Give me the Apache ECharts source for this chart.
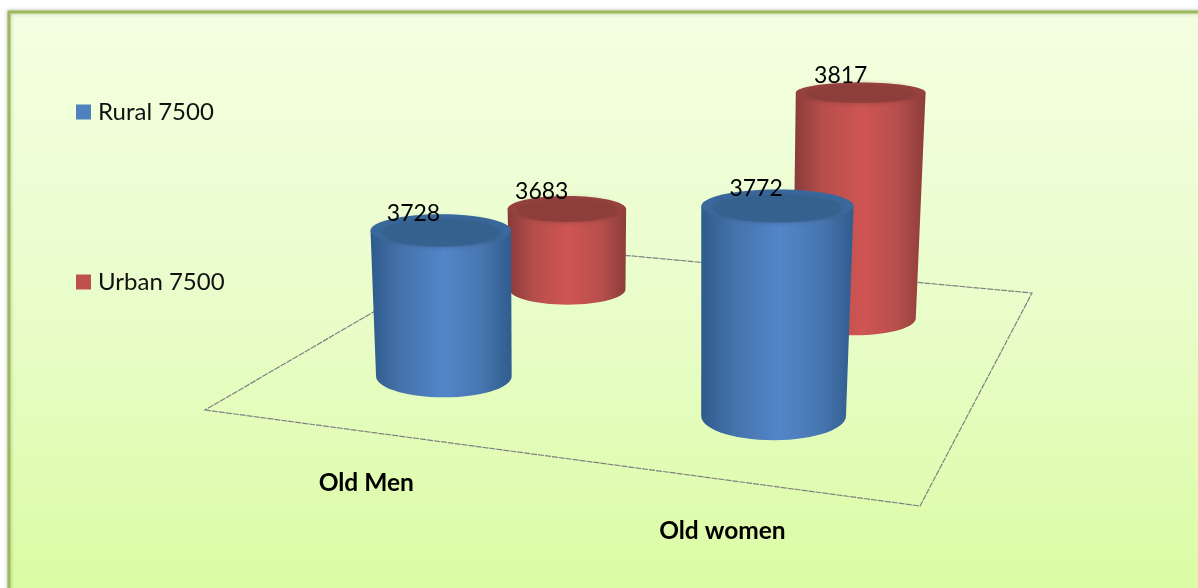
<!DOCTYPE html>
<html>
<head>
<meta charset="utf-8">
<title>Old men and women, rural and urban</title>
<script src="https://cdn.jsdelivr.net/npm/echarts@6/dist/echarts.min.js"></script>
<style>
  html, body { margin: 0; padding: 0; background: #fff; }
  #main { width: 1198px; height: 588px; }
</style>
</head>
<body>
<div id="main"></div>
<script>
const categories = ['Old Men', 'Old women'];
const seriesNames = ['Rural 7500', 'Urban 7500'];
const rural = [3728, 3772];
const urban = [3683, 3817];

const axisMin = 3602;

// floor of the 3d box on screen: front left, front right, back right, back left
const floor = [[205, 410], [920, 506], [1032, 293], [492, 243]];

// unit square -> screen, solved from the four floor corners
function makeProjection(c) {
  const sx = c[0][0] - c[1][0] + c[2][0] - c[3][0];
  const sy = c[0][1] - c[1][1] + c[2][1] - c[3][1];
  const dx1 = c[1][0] - c[2][0], dx2 = c[3][0] - c[2][0];
  const dy1 = c[1][1] - c[2][1], dy2 = c[3][1] - c[2][1];
  const den = dx1 * dy2 - dx2 * dy1;
  const g = (sx * dy2 - dx2 * sy) / den;
  const h = (dx1 * sy - sx * dy1) / den;
  return function (u, v) {
    const w = 1 + g * u + h * v;
    return {
      x: ((c[1][0] - c[0][0] + g * c[1][0]) * u + (c[3][0] - c[0][0] + h * c[3][0]) * v + c[0][0]) / w,
      y: ((c[1][1] - c[0][1] + g * c[1][1]) * u + (c[3][1] - c[0][1] + h * c[3][1]) * v + c[0][1]) / w,
      w: w
    };
  };
}
const project = makeProjection(floor);

// ellipses open up the further below the horizon they sit
function flatten(y) {
  return 0.105 + 0.00055 * y;
}

const shades = {
  'Rural 7500': {
    side: ['#2f5a8c', '#4573ab', '#5285ca', '#4877b0', '#305c8e'],
    top: ['#35618f', '#39689c']
  },
  'Urban 7500': {
    side: ['#873b39', '#b64e4b', '#cf5553', '#b84f4c', '#8c3d3b'],
    top: ['#8e3e3a', '#96413d']
  }
};

function sideFill(colors) {
  return {
    type: 'linear', x: 0, y: 0, x2: 1, y2: 0,
    colorStops: colors.map(function (c, i) {
      return { offset: [0, 0.22, 0.52, 0.78, 1][i], color: c };
    })
  };
}

function renderCylinder(params, api) {
  const name = seriesNames[params.seriesIndex];
  const idx = api.value(0);
  const val = api.value(1);
  const cs = params.coordSys;
  const p0 = api.coord([idx, axisMin]);
  const p1 = api.coord([idx, val]);

  const u = (p0[0] - cs.x) / cs.width;
  const v = (params.seriesIndex + 0.5) / seriesNames.length;
  const base = project(u, v);

  const h = (p0[1] - p1[1]) / base.w;
  const rx = 71.5 / base.w;
  const topY = base.y - h;
  const topX = base.x + (base.x - 620) * 0.00012 * h;
  const topRx = rx * (1 + 0.00025 * h);
  const ry = rx * flatten(base.y);
  const topRy = topRx * flatten(topY);

  const pts = [[topX - topRx, topY]];
  for (let a = 180; a >= 0; a -= 6) {
    const t = a * Math.PI / 180;
    pts.push([base.x + rx * Math.cos(t), base.y + ry * Math.sin(t)]);
  }
  pts.push([topX + topRx, topY]);

  const s = shades[name];
  return {
    type: 'group',
    children: [
      { type: 'polygon', shape: { points: pts }, style: { fill: sideFill(s.side) } },
      {
        type: 'ellipse',
        shape: { cx: topX, cy: topY, rx: topRx, ry: topRy },
        style: { fill: s.top[1] }
      },
      {
        type: 'ellipse',
        shape: { cx: topX, cy: topY + topRy * 0.12, rx: topRx * 0.84, ry: topRy * 0.82 },
        style: { fill: s.top[0], shadowBlur: 6, shadowColor: s.top[0] }
      },
      {
        type: 'text',
        z2: 10,
        style: {
          x: topX - 35 + 0.0175 * topX, y: topY - 17,
          text: String(val),
          align: 'center', verticalAlign: 'middle',
          font: '23px Lato', fill: '#000'
        }
      }
    ]
  };
}

function renderFloor(params, api) {
  const idx = api.value(0);
  const p = api.coord([idx, axisMin]);
  const front = project((p[0] - params.coordSys.x) / params.coordSys.width, 0);
  const children = [{
    type: 'text',
    style: {
      x: front.x + 1, y: front.y + 52,
      text: categories[idx],
      align: 'center', verticalAlign: 'middle',
      font: 'bold 24.5px Lato', fill: '#000'
    }
  }];
  if (params.dataIndex === 0) {
    children.push({
      type: 'polygon',
      shape: { points: floor },
      style: { fill: 'none', stroke: '#808080', lineWidth: 1.2, lineDash: [6, 1] }
    });
  }
  return { type: 'group', children: children };
}

function cylinderSeries(name, values, z) {
  return {
    name: name,
    type: 'custom',
    z: z,
    renderItem: renderCylinder,
    encode: { x: 0, y: 1 },
    itemStyle: { color: name === seriesNames[0] ? '#4f81bd' : '#c0504d' },
    data: values.map(function (d, i) { return [i, d]; })
  };
}

const chart = echarts.init(document.getElementById('main'));
chart.setOption({
  animation: false,
  graphic: [
    {
      type: 'rect',
      z: -10,
      shape: { x: 9, y: 12, width: 1200, height: 590 },
      style: {
        fill: {
          type: 'linear', x: 0, y: 0, x2: 0, y2: 1,
          colorStops: [
            { offset: 0, color: '#f4ffe2' },
            { offset: 0.5, color: '#e9fdca' },
            { offset: 1, color: '#dbfba2' }
          ]
        },
        stroke: '#9bbb59',
        lineWidth: 3,
        shadowBlur: 4,
        shadowColor: 'rgba(0,0,0,0.25)'
      }
    }
  ],
  legend: {
    data: seriesNames,
    orient: 'vertical',
    left: 76,
    top: 100,
    padding: 0,
    icon: 'rect',
    itemWidth: 15,
    itemHeight: 15,
    itemGap: 146,
    textStyle: { fontFamily: 'Lato', fontSize: 24, color: '#111', padding: [0, 0, 0, 2] }
  },
  grid: { left: 200, top: 60, width: 800, height: 363.6 },
  xAxis: { type: 'category', data: categories, show: false },
  yAxis: { type: 'value', min: axisMin, max: 3900, show: false },
  series: [
    cylinderSeries(seriesNames[0], rural, 4),
    cylinderSeries(seriesNames[1], urban, 3),
    {
      name: 'floor',
      type: 'custom',
      z: 1,
      silent: true,
      renderItem: renderFloor,
      encode: { x: 0 },
      data: categories.map(function (c, i) { return [i]; })
    }
  ]
});
</script>
</body>
</html>
